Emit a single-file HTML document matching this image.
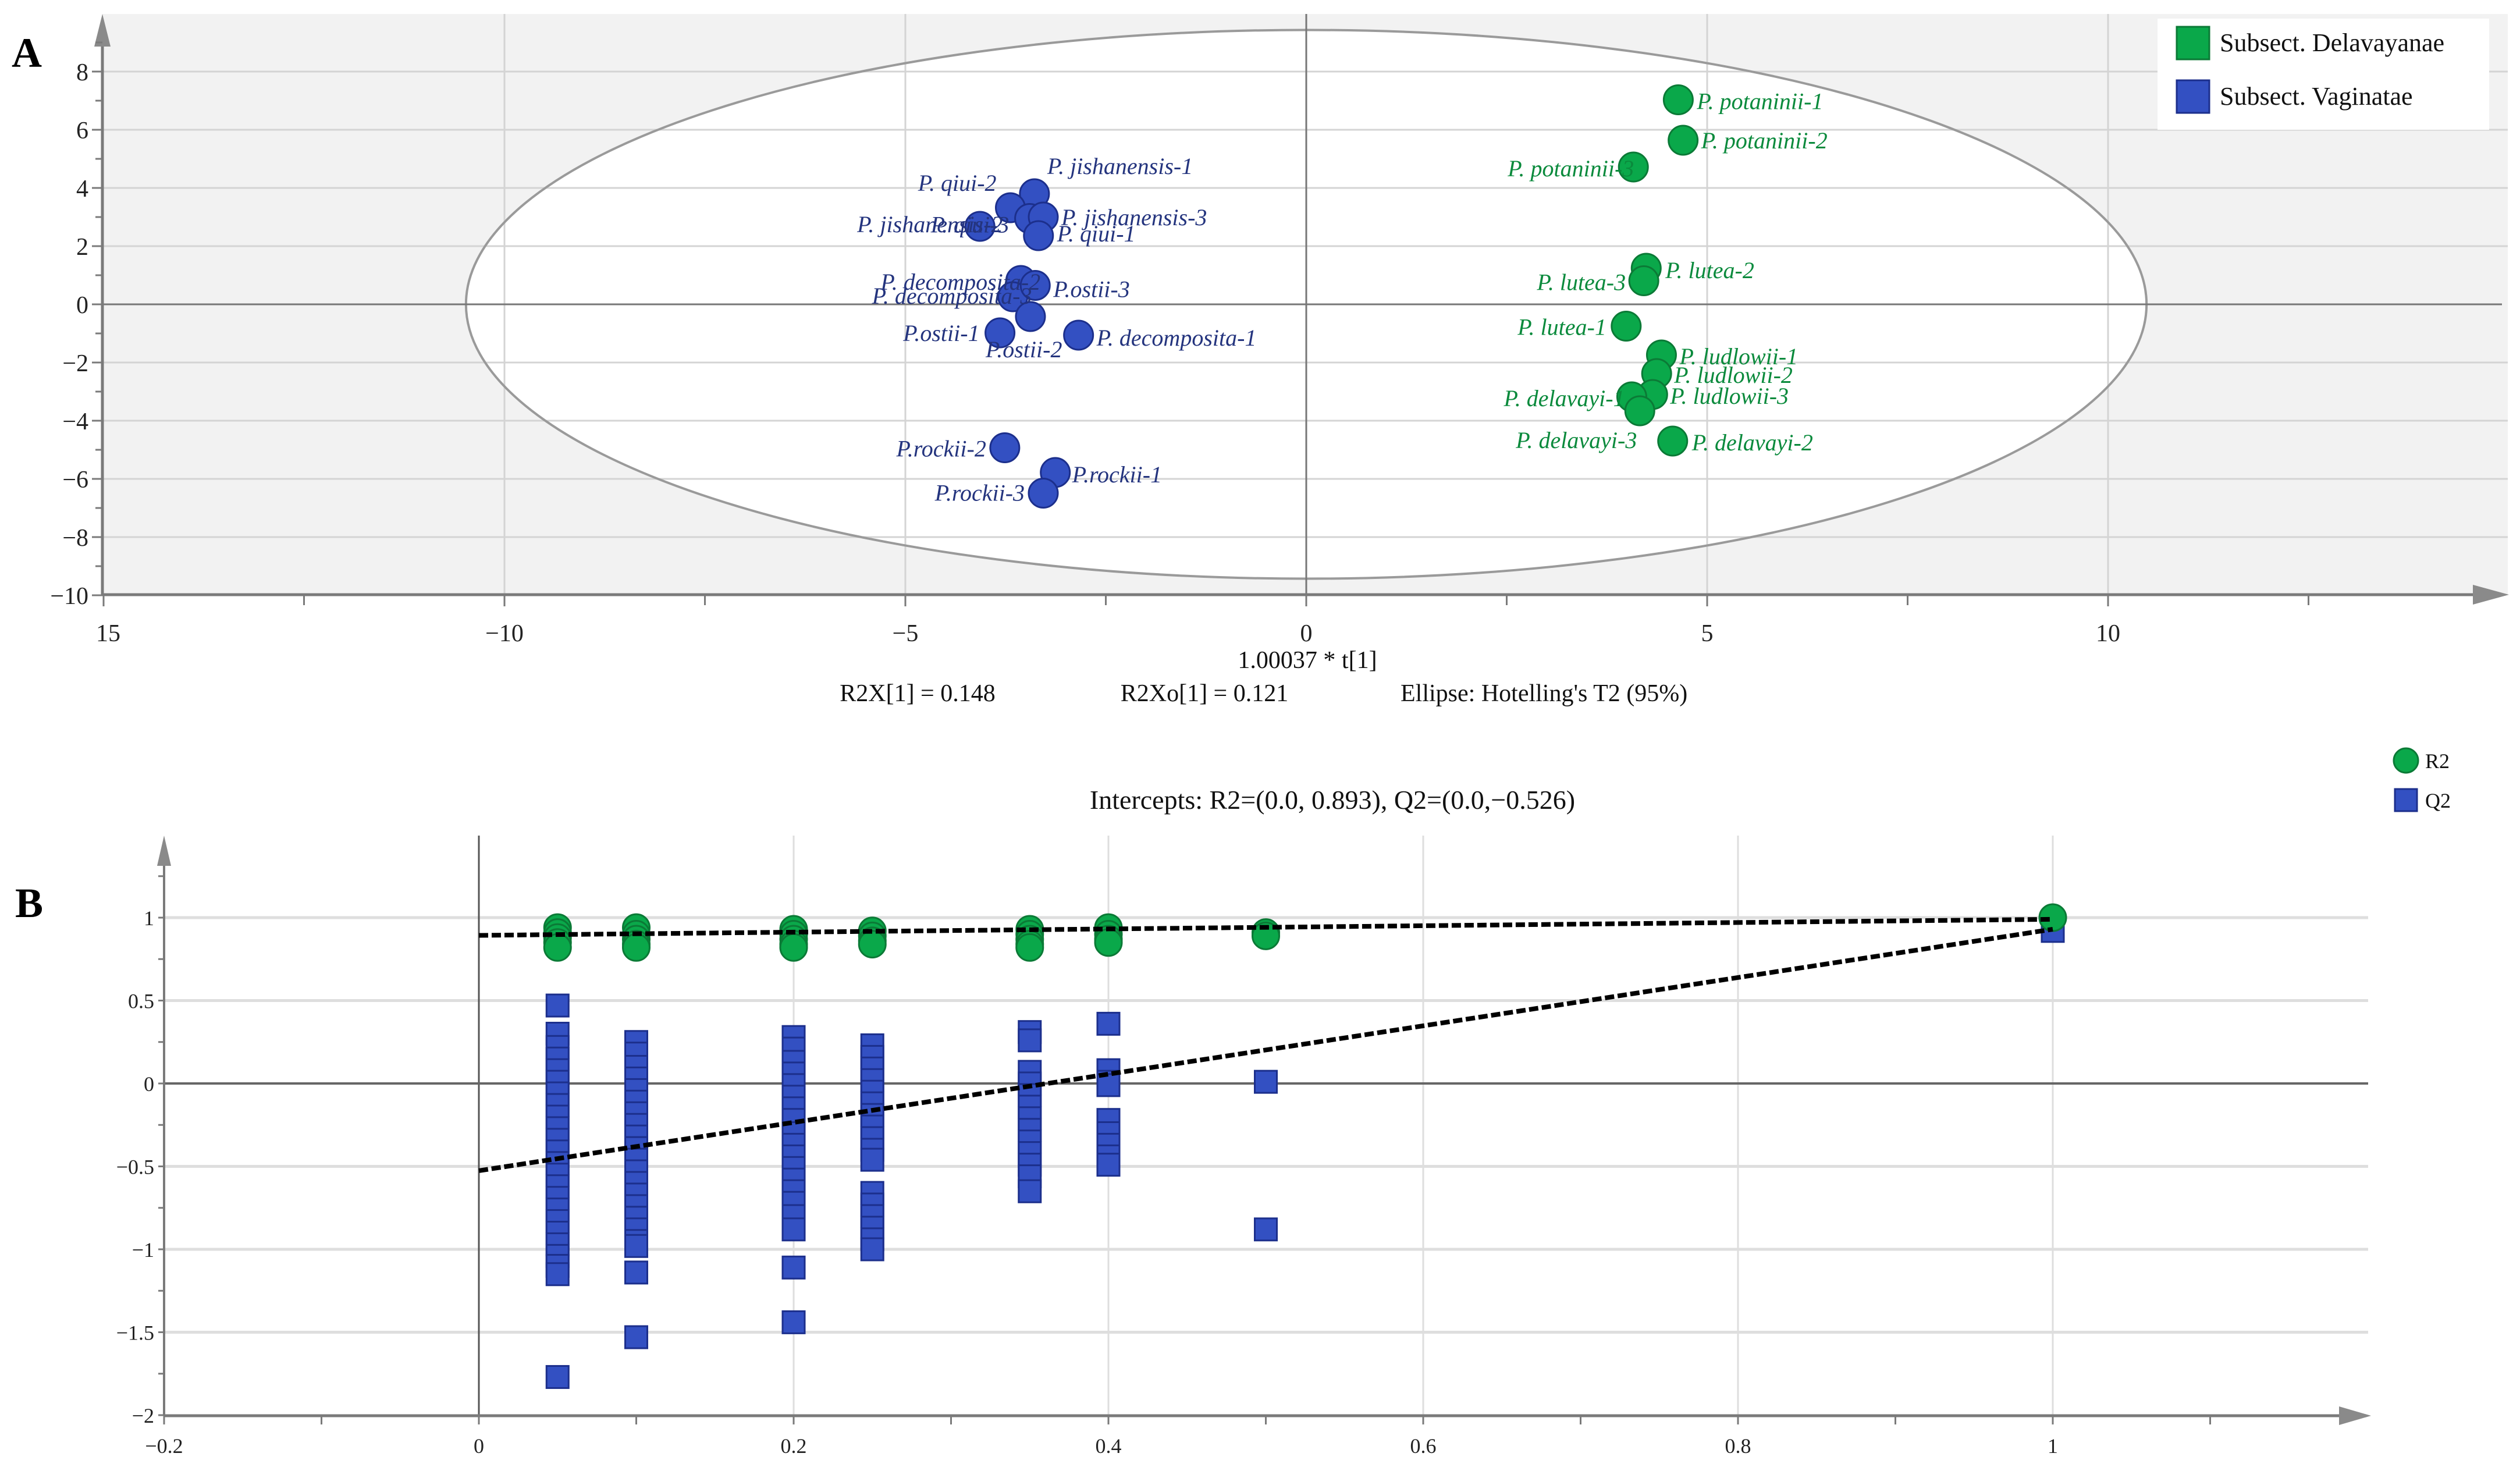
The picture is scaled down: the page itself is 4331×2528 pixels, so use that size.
<!DOCTYPE html>
<html><head><meta charset="utf-8"><style>
html,body{margin:0;padding:0;background:#fff;}
svg{display:block;font-family:"Liberation Serif",serif;}
</style></head><body>
<svg id="fig" width="4331" height="2528" viewBox="0 0 4331 2528" xmlns="http://www.w3.org/2000/svg">
<rect width="4331" height="2528" fill="#fff"/>
<g id="panelA"></g>
<g id="panelB"></g>
</svg>
<script>
// ---------- Panel A data ----------
const aNames = ["P. jishanensis-1","P. qiui-2","P. jishanensis-2","P. qiui-3","P. jishanensis-3","P. qiui-1","P. decomposita-2","P. decomposita-3","P.ostii-3","P.ostii-1","P.ostii-2","P. decomposita-1","P.rockii-2","P.rockii-1","P.rockii-3",
"P. potaninii-1","P. potaninii-2","P. potaninii-3","P. lutea-2","P. lutea-3","P. lutea-1","P. ludlowii-1","P. ludlowii-2","P. ludlowii-3","P. delavayi-1","P. delavayi-3","P. delavayi-2"];
const aGroup = ["V","V","V","V","V","V","V","V","V","V","V","V","V","V","V","D","D","D","D","D","D","D","D","D","D","D","D"];
const aT1 = [-3.39,-3.69,-4.07,-3.45,-3.28,-3.34,-3.56,-3.66,-3.38,-3.82,-3.44,-2.84,-3.76,-3.13,-3.28,4.64,4.70,4.08,4.24,4.21,3.99,4.43,4.37,4.32,4.06,4.16,4.57];
const aTo1 = [3.8,3.32,2.68,2.95,3.0,2.36,0.82,0.26,0.65,-0.98,-0.42,-1.06,-4.93,-5.78,-6.49,7.03,5.64,4.72,1.24,0.81,-0.75,-1.74,-2.38,-3.1,-3.18,-3.66,-4.7];
const aXTicks = [-15,-10,-5,0,5,10];
const aXTickLabels = ["15","\u221210","\u22125","0","5","10"];
const aYTicks = [8,6,4,2,0,-2,-4,-6,-8,-10];
const aYTickLabels = ["8","6","4","2","0","\u22122","\u22124","\u22126","\u22128","\u221210"];
// label placement (style): anchor and pixel offsets
const aLabAnchor = ["start","end","start","start","start","start","start","start","start","end","start","start","end","start","end","start","start","start","start","end","end","start","start","start","start","start","start"];
const aLabDx = [22,-24,-211,-170,31,32,-241,-242,31,-35,-77,31,-32,29,-32,32,31,-216,33,-31,-34,31,30,30,-220,-213,33];
const aLabDy = [-34,-29,10,24,14,10,16,12,20,14,70,18,15,17,13,16,14,16,17,16,15,16,16,16,16,64,16];

// ---------- Panel B data ----------
const r2X = [0.05,0.05,0.05,0.05,0.05,0.1,0.1,0.1,0.1,0.1,0.2,0.2,0.2,0.2,0.2,0.25,0.25,0.25,0.25,0.35,0.35,0.35,0.35,0.35,0.4,0.4,0.4,0.4,0.5,0.5,1];
const r2Y = [0.94,0.91,0.88,0.85,0.82,0.94,0.9,0.87,0.84,0.82,0.93,0.9,0.87,0.84,0.82,0.92,0.89,0.86,0.84,0.93,0.9,0.87,0.84,0.82,0.94,0.9,0.87,0.85,0.91,0.89,1.0];
const q2Col05 = [0.47,0.30,0.22,0.15,0.08,0.01,-0.06,-0.13,-0.2,-0.27,-0.34,-0.41,-0.48,-0.55,-0.62,-0.69,-0.76,-0.83,-0.9,-0.97,-1.04,-1.1,-1.15,-1.77];
const q2Col10 = [0.25,0.18,0.1,0.03,-0.04,-0.11,-0.18,-0.25,-0.32,-0.39,-0.46,-0.53,-0.6,-0.67,-0.74,-0.81,-0.88,-0.95,-0.98,-1.14,-1.53];
const q2Col20 = [0.28,0.21,0.13,0.06,-0.01,-0.08,-0.15,-0.22,-0.3,-0.37,-0.44,-0.51,-0.58,-0.65,-0.72,-0.8,-0.88,-1.11,-1.44];
const q2Col25 = [0.23,0.16,0.09,0.02,-0.05,-0.12,-0.19,-0.26,-0.33,-0.4,-0.46,-0.66,-0.73,-0.8,-0.87,-0.94,-1.0];
const q2Col35 = [0.31,0.26,0.07,0.0,-0.07,-0.14,-0.21,-0.28,-0.35,-0.42,-0.49,-0.56,-0.65];
const q2Col40 = [0.36,0.08,0.01,-0.01,-0.22,-0.3,-0.37,-0.44,-0.49];
const q2Col50 = [0.01,-0.88];
const q2Col100 = [0.92];
const q2Xs = [0.05,0.1,0.2,0.25,0.35,0.4,0.5,1];
const r2Intercept = [0.893, 0.99];
const q2Intercept = [-0.526, 0.93];
const bXTicks = [-0.2,0,0.2,0.4,0.6,0.8,1];
const bXTickLabels = ["\u22120.2","0","0.2","0.4","0.6","0.8","1"];
const bYTicks = [1,0.5,0,-0.5,-1,-1.5,-2];
const bYTickLabels = ["1","0.5","0","\u22120.5","\u22121","\u22121.5","\u22122"];

const NS="http://www.w3.org/2000/svg";
function mk(parent,tag,attrs,text){const e=document.createElementNS(NS,tag);for(const k in attrs)e.setAttribute(k,attrs[k]);if(text!==undefined)e.textContent=text;parent.appendChild(e);return e;}

// ---------- Panel A ----------
const A=document.getElementById('panelA');
const ax=v=>2245+v*137.8, ay=v=>523-v*50;
const GREEN="#0aa84a", GREENS="#0b7a36", BLUE="#3350c2", BLUES="#1c2f8c";
let e;
e=mk(A,'rect',{x:176,y:24,width:4134,height:998,fill:'#f2f2f2'});


e=mk(A,'ellipse',{cx:ax(0),cy:ay(0),rx:10.48*137.8,ry:9.43*50,fill:'#fff',stroke:'none'});


for(const v of [-10,-5,5,10]){
  e=mk(A,'line',{x1:ax(v),x2:ax(v),y1:24,y2:1022,stroke:'#d4d4d4','stroke-width':3});
  
  
}
for(const v of [8,6,4,2,-2,-4,-6,-8]){
  e=mk(A,'line',{x1:176,x2:4310,y1:ay(v),y2:ay(v),stroke:'#d4d4d4','stroke-width':3});
  
  
}
e=mk(A,'ellipse',{cx:ax(0),cy:ay(0),rx:10.48*137.8,ry:9.43*50,fill:'none',stroke:'#9a9a9a','stroke-width':4});


e=mk(A,'line',{x1:176,x2:4300,y1:ay(0),y2:ay(0),stroke:'#777','stroke-width':3});


e=mk(A,'line',{x1:ax(0),x2:ax(0),y1:24,y2:1022,stroke:'#777','stroke-width':3});


// axes
e=mk(A,'line',{x1:176,x2:4260,y1:1022,y2:1022,stroke:'#7a7a7a','stroke-width':5});


e=mk(A,'polygon',{points:'4250,1005 4312,1022 4250,1039',fill:'#8a8a8a'});


e=mk(A,'line',{x1:176,x2:176,y1:60,y2:1022,stroke:'#7a7a7a','stroke-width':5});


e=mk(A,'polygon',{points:'162,80 176,24 190,80',fill:'#8a8a8a'});


for(let v=-12.5; v<=12.5; v+=5){
  e=mk(A,'line',{x1:ax(v),x2:ax(v),y1:1022,y2:1040,stroke:'#7a7a7a','stroke-width':3});
  
  
}
aXTicks.forEach((v,i)=>{
  e=mk(A,'line',{x1:ax(v),x2:ax(v),y1:1022,y2:1042,stroke:'#7a7a7a','stroke-width':3});
  
  
  e=mk(A,'text',{x:ax(v)+(i===0?8:0),y:1102,'font-size':42,'text-anchor':'middle',fill:'#222'},aXTickLabels[i]);
  
  
});
for(let v=-9; v<=9; v+=2){
  e=mk(A,'line',{x1:164,x2:176,y1:ay(v),y2:ay(v),stroke:'#7a7a7a','stroke-width':3});
  
  
}
aYTicks.forEach((v,i)=>{
  e=mk(A,'line',{x1:158,x2:176,y1:ay(v),y2:ay(v),stroke:'#7a7a7a','stroke-width':3});
  
  
  e=mk(A,'text',{x:152,y:ay(v)+15,'font-size':42,'text-anchor':'end',fill:'#222'},aYTickLabels[i]);
  
  
});
// points
aT1.forEach((v,i)=>{
  const g=aGroup[i]==="D";
  e=mk(A,'circle',{cx:ax(v),cy:ay(aTo1[i]),r:25,fill:g?GREEN:BLUE,stroke:g?GREENS:BLUES,'stroke-width':3});
  
  
});
aT1.forEach((v,i)=>{
  const g=aGroup[i]==="D";
  e=mk(A,'text',{x:ax(v)+aLabDx[i],y:ay(aTo1[i])+aLabDy[i],'font-size':40,'font-style':'italic','text-anchor':aLabAnchor[i],fill:g?'#0a8a3c':'#24347e'},aNames[i]);
  
  
});
// legend
e=mk(A,'rect',{x:3708,y:32,width:570,height:191,fill:'#fff'});


e=mk(A,'rect',{x:3741,y:46,width:56,height:56,fill:GREEN,stroke:GREENS,'stroke-width':3});


e=mk(A,'text',{x:3815,y:88,'font-size':44,fill:'#111'},'Subsect. Delavayanae');


e=mk(A,'rect',{x:3741,y:138,width:56,height:56,fill:BLUE,stroke:BLUES,'stroke-width':3});


e=mk(A,'text',{x:3815,y:180,'font-size':44,fill:'#111'},'Subsect. Vaginatae');


// titles
e=mk(A,'text',{x:20,y:115,'font-size':72,'font-weight':'bold',fill:'#000'},'A');


e=mk(A,'text',{x:2247,y:1148,'font-size':42,'text-anchor':'middle',fill:'#111'},'1.00037 * t[1]');


e=mk(A,'text',{x:1577,y:1205,'font-size':42,'text-anchor':'middle',fill:'#111'},'R2X[1] = 0.148');


e=mk(A,'text',{x:2070,y:1205,'font-size':42,'text-anchor':'middle',fill:'#111'},'R2Xo[1] = 0.121');


e=mk(A,'text',{x:2407,y:1205,'font-size':42,fill:'#111'},"Ellipse: Hotelling's T2 (95%)");



// ---------- Panel B ----------
const B=document.getElementById('panelB');
const bx=v=>823+v*2705, by=v=>1862-v*285;
for(const v of [0.2,0.4,0.6,0.8,1]){
  e=mk(B,'line',{x1:bx(v),x2:bx(v),y1:1436,y2:2433,stroke:'#dedede','stroke-width':3});
  
  
}
for(const v of [1,0.5,-0.5,-1,-1.5]){
  e=mk(B,'line',{x1:282,x2:4070,y1:by(v),y2:by(v),stroke:'#dedede','stroke-width':5});
  
  
}
e=mk(B,'line',{x1:bx(0),x2:bx(0),y1:1436,y2:2433,stroke:'#555','stroke-width':3});


e=mk(B,'line',{x1:282,x2:4070,y1:by(0),y2:by(0),stroke:'#666','stroke-width':4});


e=mk(B,'line',{x1:282,x2:4030,y1:2433,y2:2433,stroke:'#7a7a7a','stroke-width':5});


e=mk(B,'polygon',{points:'4020,2417 4075,2433 4020,2449',fill:'#8a8a8a'});


e=mk(B,'line',{x1:282,x2:282,y1:1480,y2:2433,stroke:'#7a7a7a','stroke-width':4});


e=mk(B,'polygon',{points:'270,1488 282,1436 294,1488',fill:'#8a8a8a'});


for(let k=-2;k<=11;k++){
  const v=k/10;
  e=mk(B,'line',{x1:bx(v),x2:bx(v),y1:2433,y2:2448,stroke:'#7a7a7a','stroke-width':3});
  
  
}
bXTicks.forEach((v,i)=>{
  e=mk(B,'text',{x:bx(v),y:2497,'font-size':36,'text-anchor':'middle',fill:'#222'},bXTickLabels[i]);
  
  
});
for(let k=-8;k<=5;k++){
  e=mk(B,'line',{x1:272,x2:282,y1:by(k/4),y2:by(k/4),stroke:'#7a7a7a','stroke-width':3});
  
  
}
bYTicks.forEach((v,i)=>{
  e=mk(B,'text',{x:265,y:by(v)+13,'font-size':36,'text-anchor':'end',fill:'#222'},bYTickLabels[i]);
  
  
});
// Q2 squares
const q2Cols=[q2Col05,q2Col10,q2Col20,q2Col25,q2Col35,q2Col40,q2Col50,q2Col100];
q2Cols.forEach((col,ci)=>{
  col.forEach(v=>{
    e=mk(B,'rect',{x:bx(q2Xs[ci])-19,y:by(v)-19,width:38,height:38,fill:BLUE,stroke:BLUES,'stroke-width':3});
    
    
  });
});
// R2 circles
r2X.forEach((v,i)=>{
  e=mk(B,'circle',{cx:bx(v),cy:by(r2Y[i]),r:23,fill:GREEN,stroke:GREENS,'stroke-width':3});
  
  
});
// regression lines
e=mk(B,'line',{x1:bx(0),y1:by(r2Intercept[0]),x2:bx(1),y2:by(r2Intercept[1]),stroke:'#000','stroke-width':8,'stroke-dasharray':'16 6'});


e=mk(B,'line',{x1:bx(0),y1:by(q2Intercept[0]),x2:bx(1),y2:by(q2Intercept[1]),stroke:'#000','stroke-width':8,'stroke-dasharray':'16 6'});


// title & legend
e=mk(B,'text',{x:2290,y:1390,'font-size':46,'text-anchor':'middle',fill:'#111'},'Intercepts: R2=(0.0, 0.893), Q2=(0.0,\u22120.526)');


e=mk(B,'circle',{cx:4135,cy:1307,r:21,fill:GREEN,stroke:GREENS,'stroke-width':3});


e=mk(B,'text',{x:4168,y:1320,'font-size':36,fill:'#111'},'R2');


e=mk(B,'rect',{x:4116,y:1356,width:38,height:38,fill:BLUE,stroke:BLUES,'stroke-width':3});


e=mk(B,'text',{x:4168,y:1388,'font-size':36,fill:'#111'},'Q2');


e=mk(B,'text',{x:26,y:1576,'font-size':72,'font-weight':'bold',fill:'#000'},'B');


</script>
</body></html>
